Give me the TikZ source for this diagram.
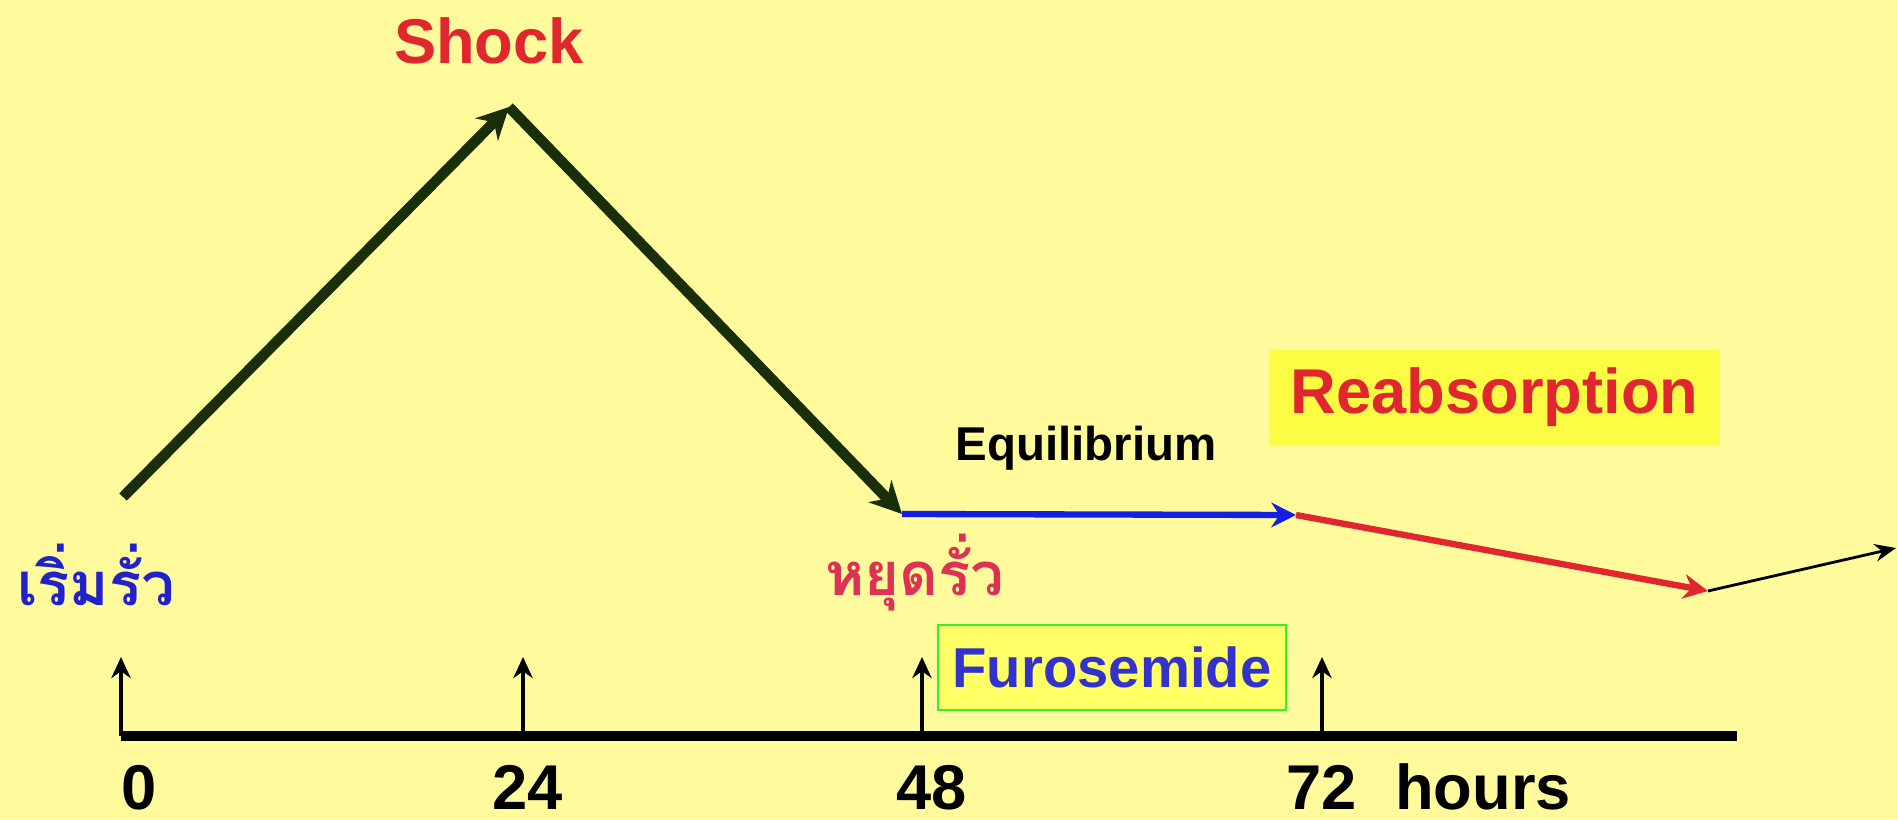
\documentclass[tikz,border=0pt]{standalone}
\usepackage{fontspec}
\setmainfont{Liberation Sans}
\newfontfamily\thaifont[Script=Thai]{Loma}
\usepackage{tikz}
\usetikzlibrary{arrows.meta, positioning, calc}

\definecolor{bgyellow}{RGB}{255,250,155}
\definecolor{boxyellow}{RGB}{252,252,68}
\definecolor{furoyellow}{RGB}{255,255,102}
\definecolor{furogreen}{RGB}{51,240,51}
\definecolor{furoblue}{RGB}{51,51,204}
\definecolor{shockred}{RGB}{224,38,46}
\definecolor{leakblue}{RGB}{34,34,204}
\definecolor{stopred}{RGB}{220,50,85}
\definecolor{leafgreen}{RGB}{27,46,11}
\definecolor{eqblue}{RGB}{20,30,230}

\begin{document}
\begin{tikzpicture}[
        leak/.style={line width=3pt, draw=leafgreen, -{Stealth[length=9pt, width=9pt]}},
        flat/.style={line width=1.8pt, draw=eqblue, -{Stealth[length=7pt, width=7pt]}},
        reab/.style={line width=1.8pt, draw=shockred, -{Stealth[length=7pt, width=7pt]}},
        thin/.style={line width=0.8pt, draw=black, -{Stealth[length=6pt, width=5pt]}},
        axis/.style={line width=2.8pt, draw=black},
        tick/.style={line width=1.1pt, draw=black, -{Stealth[length=6pt, width=5.5pt]}},
        title/.style={font=\bfseries\fontsize{18}{20}\selectfont, inner sep=0pt},
        thai/.style={font=\thaifont\bfseries\fontsize{17}{20}\selectfont, inner sep=0pt},
        num/.style={font=\bfseries\fontsize{18}{20}\selectfont, inner sep=0pt, anchor=base},
        box/.style={rectangle, draw=none, inner sep=0pt, align=center}
    ]
    \fill[bgyellow] (0,0) rectangle (18.98,8.19);
    \useasboundingbox (0,0) rectangle (18.98,8.19);

    % Fluid course
    \coordinate (Start) at (1.23,3.22);
    \coordinate (Peak) at (5.09,7.12);
    \coordinate (Stop) at (9.02,3.05);
    \coordinate (EqEnd) at (12.96,3.04);
    \coordinate (ReEnd) at (17.08,2.28);
    \coordinate (Tail) at (18.96,2.71);

    \draw[leak] (Start) -- (Peak);
    \draw[leak] (Peak) -- (Stop);
    \draw[flat] (Stop) -- (EqEnd);
    \draw[reab] (EqEnd) -- (ReEnd);
    \draw[thin] (ReEnd) -- (Tail);

    \node[title, text=shockred] (Shock) at (4.89,7.78) {Shock};
    \node[thai, text=leakblue, anchor=base] (Begin) at (0.96,2.14) {เริ่มรั่ว};
    \node[thai, text=stopred, anchor=base] (Halt) at (9.15,2.24) {หยุดรั่ว};
    \node[anchor=base, inner sep=0pt, font=\bfseries\fontsize{13.5}{15}\selectfont] (Equil) at (10.86,3.58) {Equilibrium};
    \node[box, title, fill=boxyellow, text=shockred, minimum width=4.51cm, minimum height=0.95cm] (Reabs) at (14.945,4.215) {Reabsorption};

    % Time axis
    \coordinate (Ax0) at (1.21,0.83);
    \coordinate (AxEnd) at (17.37,0.83);
    \draw[axis] (Ax0) -- (AxEnd);
    \foreach \t/\x/\lx in {0/1.21/1.39, 24/5.23/5.28, 48/9.22/9.32, 72/13.22/13.22} {
        \coordinate (T\t) at (\x,0.83);
        \coordinate (T\t top) at (\x,1.62);
        \draw[tick] (T\t) -- (T\t top);
        \node[num] (L\t) at (\lx,0.1) {\t};
    }
    \node[num] (Hours) at (14.83,0.1) {hours};

    \node[box, draw=furogreen, line width=0.8pt, fill=furoyellow, text=furoblue, font=\bfseries\fontsize{16}{18}\selectfont, minimum width=3.48cm, minimum height=0.85cm] (Furo) at (11.12,1.515) {Furosemide};

\end{tikzpicture}
\end{document}
